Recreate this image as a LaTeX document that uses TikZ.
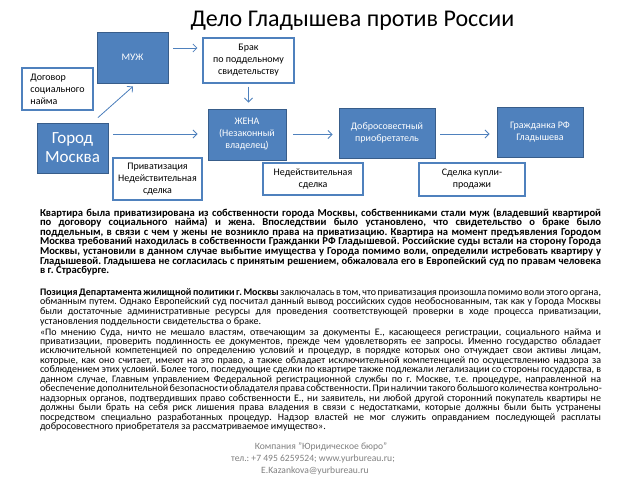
\documentclass[tikz,border=0pt]{standalone}
\usepackage{fontspec}
\setmainfont{Carlito}
\usetikzlibrary{arrows.meta}
\definecolor{accent}{HTML}{4F81BD}
\definecolor{accentdark}{HTML}{385D8A}
\definecolor{footgray}{HTML}{808080}
\tikzset{
  bluebox/.style={draw=accentdark, fill=accent, line width=0.9pt, text=white,
    font=\fontsize{10}{12}\selectfont, align=center, inner sep=2pt},
  whitebox/.style={draw=accent, fill=white, line width=1.1pt, text=black,
    font=\fontsize{10}{12}\selectfont, align=center, inner sep=2pt},
  arr/.style={draw=accent, line width=0.8pt, -{Straight Barb[length=4pt,width=8pt]}},
  bodytext/.style={anchor=base west, inner sep=0pt, outer sep=0pt, text=black},
  foottext/.style={anchor=base, inner sep=0pt, text=footgray, font=\fontsize{9.6}{12}\selectfont},
}
\newcommand{\jl}[1]{\makebox[\linewidth][s]{#1}\\}
\newcommand{\bodysetup}{\setlength{\parindent}{0pt}\setlength{\lineskiplimit}{-100pt}}
\frenchspacing
\begin{document}
\begin{tikzpicture}[x=1pt,y=-1pt]
\useasboundingbox (0,0) rectangle (638,479);
\fill[white] (0,0) rectangle (638,479);

\node[anchor=base, font=\fontsize{24}{28}\selectfont] (title) at (352.5,27) {Дело Гладышева против России};

\node[bluebox, minimum width=71pt, minimum height=51pt] (muzh) at (132.5,57.5) {МУЖ};
\node[whitebox, align=left, minimum width=71pt, minimum height=42pt] (dogovor) at (57.5,89) {Договор\\социального\\найма};
\node[bluebox, font=\fontsize{17}{19}\selectfont, minimum width=71pt, minimum height=50pt] (gorod) at (72.5,148) {Город\\Москва};
\node[whitebox, minimum width=91pt, minimum height=45pt] (brak) at (248.5,60.5) {Брак\\по поддельному\\свидетельству};
\node[bluebox, minimum width=78pt, minimum height=51pt] (zhena) at (247,134.5) {ЖЕНА\\(Незаконный\\владелец)};
\node[whitebox, minimum width=89pt, minimum height=42pt] (priv) at (157.5,179) {Приватизация\\Недействительная\\сделка};
\node[whitebox, minimum width=100pt, minimum height=32pt] (nedeistv) at (313,179) {Недействительная\\сделка};
\node[bluebox, minimum width=96pt, minimum height=50pt] (dobr) at (387,133) {Добросовестный\\приобретатель};
\node[bluebox, minimum width=86pt, minimum height=50pt] (grazh) at (540,132) {Гражданка РФ\\Гладышева};
\node[whitebox, minimum width=106pt, minimum height=33pt] (kupli) at (472,179.5) {Сделка купли-\\продажи};

\draw[arr] ([shift={(25.5,-5)}]gorod.north) -- ([shift={(0.5,3)}]muzh.south);
\draw[arr] ([shift={(5,-9.5)}]muzh.east) -- ([shift={(-5,-12.5)}]brak.west);
\draw[arr, shorten <=3pt, shorten >=6pt] (brak.south) -- (brak.south |- zhena.north);
\draw[arr, shorten <=5pt, shorten >=10pt] ([yshift=14pt]gorod.east) -- ([yshift=14pt]gorod.east -| zhena.west);
\draw[arr, shorten <=7pt, shorten >=6pt] (zhena.east) -- (zhena.east -| dobr.west);
\draw[arr, shorten <=5pt, shorten >=7pt] ([yshift=-1pt]dobr.east) -- ([yshift=-1pt]dobr.east -| grazh.west);

\node[bodytext] (par1) at (40,216) {\parbox[t]{561pt}{\bodysetup\fontsize{10.6}{9.65}\selectfont\bfseries
\jl{Квартира была приватизирована из собственности города Москвы, собственниками стали муж (владевший квартирой}
\jl{по договору социального найма) и жена. Впоследствии было установлено, что свидетельство о браке было}
\jl{поддельным, в связи с чем у жены не возникло права на приватизацию. Квартира на момент предъявления Городом}
\jl{Москва требований находилась в собственности Гражданки РФ Гладышевой. Российские суды встали на сторону Города}
\jl{Москвы, установили в данном случае выбытие имущества у Города помимо воли, определили истребовать квартиру у}
\jl{Гладышевой. Гладышева не согласилась с принятым решением, обжаловала его в Европейский суд по правам человека}
в г. Страсбурге.}};

\node[bodytext] (par2) at (40,295) {\parbox[t]{561pt}{\bodysetup\fontsize{10}{9.7}\selectfont
\jl{\textbf{Позиция Департамента жилищной политики г. Москвы} заключалась в том, что приватизация произошла помимо воли этого органа,}
\jl{обманным путем. Однако Европейский суд посчитал данный вывод российских судов необоснованным, так как у Города Москвы}
\jl{были достаточные административные ресурсы для проведения соответствующей проверки в ходе процесса приватизации,}
установления поддельности свидетельства о браке.}};

\node[bodytext] (par3) at (40,335) {\parbox[t]{561pt}{\bodysetup\fontsize{10}{9.45}\selectfont
\jl{«По мнению Суда, ничто не мешало властям, отвечающим за документы Е., касающееся регистрации, социального найма и}
\jl{приватизации, проверить подлинность ее документов, прежде чем удовлетворять ее запросы. Именно государство обладает}
\jl{исключительной компетенцией по определению условий и процедур, в порядке которых оно отчуждает свои активы лицам,}
\jl{которые, как оно считает, имеют на это право, а также обладает исключительной компетенцией по осуществлению надзора за}
\jl{соблюдением этих условий. Более того, последующие сделки по квартире также подлежали легализации со стороны государства, в}
\jl{данном случае, Главным управлением Федеральной регистрационной службы по г. Москве, т.е. процедуре, направленной на}
\jl{обеспечение дополнительной безопасности обладателя права собственности. При наличии такого большого количества контрольно-}
\jl{надзорных органов, подтвердивших право собственности Е., ни заявитель, ни любой другой сторонний покупатель квартиры не}
\jl{должны были брать на себя риск лишения права владения в связи с недостатками, которые должны были быть устранены}
\jl{посредством специально разработанных процедур. Надзор властей не мог служить оправданием последующей расплаты}
добросовестного приобретателя за рассматриваемое имущество».}};

\node[foottext] (foot1) at (321,449) {Компания "Юридическое бюро"};
\node[foottext] (foot2) at (313,461) {тел.: +7 495 6259524; www.yurbureau.ru;};
\node[foottext] (foot3) at (315,473) {E.Kazankova@yurbureau.ru};
\end{tikzpicture}
\end{document}
